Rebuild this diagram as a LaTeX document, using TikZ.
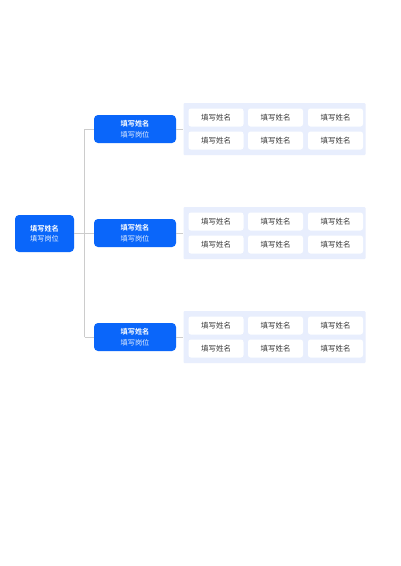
\documentclass[tikz,border=0pt]{standalone}
\usepackage{fontspec}
\newfontfamily\cjk{Noto Sans CJK SC}
\newfontfamily\cjkb{Noto Sans CJK SC Bold}
\begin{document}
\begin{tikzpicture}[x=1pt,y=-1pt,
  bluebox/.style={fill=boxblue,rounded corners=4pt,minimum width=82pt,minimum height=28pt,inner sep=0pt,text=white,align=center,font=\cjk\fontsize{7.2}{10.5}\selectfont},
  rootbox/.style={bluebox,minimum width=59pt,minimum height=37pt},
  panel/.style={fill=panelblue,minimum width=182pt,minimum height=52pt,inner sep=0pt,rounded corners=1pt},
  cell/.style={fill=white,rounded corners=2.5pt,minimum width=55pt,minimum height=18pt,inner sep=0pt,text=textgray,font=\cjk\fontsize{7.5}{8}\selectfont},
  conn/.style={draw=linegray,line width=0.6pt}]
\definecolor{boxblue}{HTML}{0A66FA}
\definecolor{panelblue}{HTML}{E8EEFD}
\definecolor{textgray}{HTML}{3A3A3A}
\definecolor{linegray}{HTML}{CCCCCC}
\useasboundingbox (0,0) rectangle (400,566);
\fill[white] (0,0) rectangle (400,566);
\node[rootbox] (root) at (44.5,233.5) {{\cjkb 填写姓名}\\{\color{white!90!boxblue}填写岗位}};
\coordinate (trunk) at (84.5,233.5);
\foreach \i/\y in {1/129,2/233,3/337}{
  \node[bluebox] (b\i) at (135,\y) {{\cjkb 填写姓名}\\{\color{white!90!boxblue}填写岗位}};
  \node[panel] (p\i) at (274.5,\y) {};
  \foreach \c/\x in {1/216,2/275.5,3/335.5}{
    \node[cell] (c\i a\c) at (\x,\y-11.5) {填写姓名};
    \node[cell] (c\i b\c) at (\x,\y+11.5) {填写姓名};
  }
  \coordinate (j\i) at (84.5,\y);
  \draw[conn] (j\i) -- (b\i.west);
  \draw[conn] (b\i.east) -- (p\i.west);
}
\draw[conn] (j1) -- (j3);
\draw[conn] (root.east) -- (trunk);
\end{tikzpicture}
\end{document}
